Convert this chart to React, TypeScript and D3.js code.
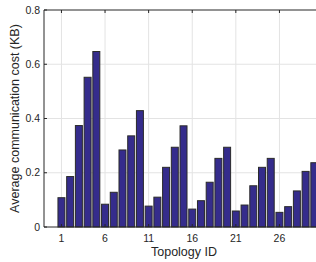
import React, { useEffect, useRef } from 'react';
import * as d3 from 'd3';

// Topology IDs and average communication cost (KB)
const topologyIds = d3.range(1, 31);
const avgCost = [
  0.108, 0.186, 0.374, 0.552, 0.647, 0.084, 0.128, 0.284, 0.336, 0.429,
  0.077, 0.110, 0.220, 0.294, 0.373, 0.066, 0.097, 0.165, 0.253, 0.294,
  0.059, 0.081, 0.152, 0.220, 0.253, 0.054, 0.075, 0.133, 0.205, 0.237,
];
const xTicks = [1, 6, 11, 16, 21, 26, 31];
const xTickLabels = [1, 6, 11, 16, 21, 26];
const yTicks = [0, 0.2, 0.4, 0.6, 0.8];

const App = () => {
  const svgRef = useRef(null);

  useEffect(() => {
    const width = 316, height = 262;
    const margin = { top: 10, left: 44, bottom: 35 };
    const plotH = height - margin.top - margin.bottom;

    const svg = d3.select(svgRef.current);
    svg.selectAll('*').remove();

    // x axis runs past the right edge of the window, as in the reference
    const x = d3.scaleLinear().domain([-1, 33]).range([margin.left, margin.left + 34 * 8.72]);
    const y = d3.scaleLinear().domain([0, 0.8]).range([margin.top + plotH, margin.top]);
    const right = x(33);

    const g = svg.append('g');

    // grid
    g.selectAll('line.vgrid')
      .data(xTicks)
      .join('line')
      .attr('x1', d => x(d)).attr('x2', d => x(d))
      .attr('y1', y(0)).attr('y2', y(0.8))
      .attr('stroke', '#e3e3e3').attr('stroke-width', 1);
    g.selectAll('line.hgrid')
      .data(yTicks.slice(1, -1))
      .join('line')
      .attr('x1', margin.left).attr('x2', right)
      .attr('y1', d => y(d)).attr('y2', d => y(d))
      .attr('stroke', '#e3e3e3').attr('stroke-width', 1);

    // bars
    const bw = 0.8 * (x(1) - x(0));
    g.selectAll('rect')
      .data(topologyIds)
      .join('rect')
      .attr('x', d => x(d) - bw / 2)
      .attr('y', (d, i) => y(avgCost[i]))
      .attr('width', bw)
      .attr('height', (d, i) => y(0) - y(avgCost[i]))
      .attr('fill', '#352c8c')
      .attr('stroke', '#2a2a2a')
      .attr('stroke-width', 1);

    // box
    const axisColor = '#262626';
    g.append('line')
      .attr('x1', margin.left).attr('x2', right)
      .attr('y1', y(0.8)).attr('y2', y(0.8))
      .attr('stroke', axisColor);
    g.append('line')
      .attr('x1', margin.left).attr('x2', right)
      .attr('y1', y(0)).attr('y2', y(0))
      .attr('stroke', axisColor);
    g.append('line')
      .attr('x1', margin.left).attr('x2', margin.left)
      .attr('y1', y(0)).attr('y2', y(0.8))
      .attr('stroke', axisColor);

    // inward ticks
    g.selectAll('line.ttick')
      .data(xTicks)
      .join('line')
      .attr('x1', d => x(d)).attr('x2', d => x(d))
      .attr('y1', y(0.8)).attr('y2', y(0.8) + 3)
      .attr('stroke', axisColor);
    g.selectAll('line.btick')
      .data(xTicks)
      .join('line')
      .attr('x1', d => x(d)).attr('x2', d => x(d))
      .attr('y1', y(0)).attr('y2', y(0) - 3)
      .attr('stroke', axisColor);
    g.selectAll('line.ytick')
      .data(yTicks)
      .join('line')
      .attr('x1', margin.left).attr('x2', margin.left + 3)
      .attr('y1', d => y(d)).attr('y2', d => y(d))
      .attr('stroke', axisColor);

    // tick labels
    const font = 'Liberation Sans, Arial, sans-serif';
    g.selectAll('text.xl')
      .data(xTickLabels)
      .join('text')
      .attr('x', d => x(d)).attr('y', y(0) + 15)
      .attr('text-anchor', 'middle')
      .attr('font-family', font).attr('font-size', 10.5).attr('fill', axisColor)
      .text(d => d);
    g.selectAll('text.yl')
      .data(yTicks)
      .join('text')
      .attr('x', margin.left - 4).attr('y', d => y(d) + 3.5)
      .attr('text-anchor', 'end')
      .attr('font-family', font).attr('font-size', 10.5).attr('fill', axisColor)
      .text(d => (d === 0 ? '0' : d3.format('.1f')(d)));

    // axis titles
    g.append('text')
      .attr('x', 184).attr('y', 256)
      .attr('text-anchor', 'middle')
      .attr('font-family', font).attr('font-size', 12.5).attr('fill', axisColor)
      .text('Topology ID');
    g.append('text')
      .attr('transform', `translate(19, ${(y(0) + y(0.8)) / 2}) rotate(-90)`)
      .attr('text-anchor', 'middle')
      .attr('font-family', font).attr('font-size', 12.5).attr('fill', axisColor)
      .text('Average communication cost (KB)');
  }, []);

  return (
    <svg
      ref={svgRef}
      width={316}
      height={262}
      style={{ position: 'absolute', left: 0, top: 0, background: '#fff' }}
    />
  );
};

export default App;
